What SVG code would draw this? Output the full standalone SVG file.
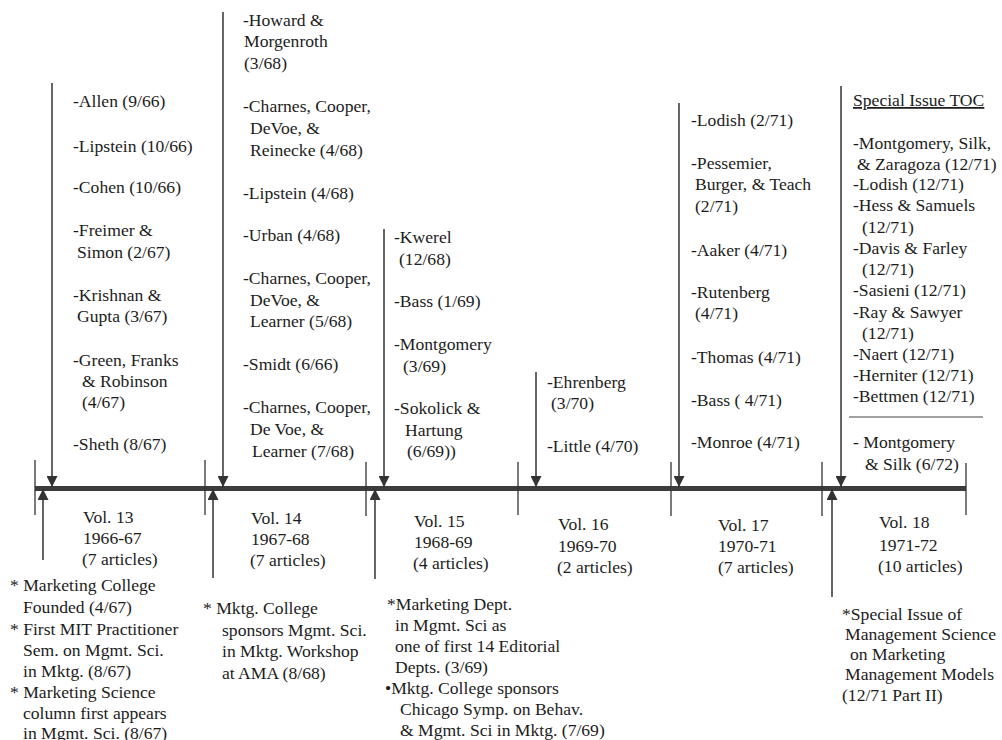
<svg xmlns="http://www.w3.org/2000/svg" width="1002" height="740" viewBox="0 0 1002 740">
<style>
text{font-family:"Liberation Serif","Times New Roman",serif;font-size:17.6px;fill:#1c1c1c}
.ln{stroke:#333;stroke-width:1.5;fill:none}
.tk{stroke:#333;stroke-width:1.3;fill:none}
.ax{stroke:#3c3c3c;stroke-width:5;fill:none}
.ul{text-decoration:underline}
</style>
<defs>
<marker id="ah" viewBox="0 0 10 10" refX="10" refY="5" markerWidth="12" markerHeight="11" markerUnits="userSpaceOnUse" orient="auto">
<path d="M0,0 L10,5 L0,10 z" fill="#333"/>
</marker>
</defs>
<rect width="1002" height="740" fill="#fff"/>

<g id="axis">
<line class="ax" x1="35" y1="488.5" x2="966" y2="488.5"/>
<line class="tk" x1="35" y1="460" x2="35" y2="515"/>
<line class="tk" x1="205" y1="460" x2="205" y2="515"/>
<line class="tk" x1="366" y1="462" x2="366" y2="516"/>
<line class="tk" x1="518" y1="462" x2="518" y2="515"/>
<line class="tk" x1="671" y1="462" x2="671" y2="516"/>
<line class="tk" x1="822" y1="462" x2="822" y2="516"/>
<line class="tk" x1="966" y1="463" x2="966" y2="515"/>
</g>

<g id="connectors">
<line class="ln" x1="52" y1="83" x2="52" y2="487" marker-end="url(#ah)"/>
<line class="ln" x1="223" y1="12" x2="223" y2="487" marker-end="url(#ah)"/>
<line class="ln" x1="384" y1="229" x2="384" y2="487" marker-end="url(#ah)"/>
<line class="ln" x1="536" y1="372" x2="536" y2="487" marker-end="url(#ah)"/>
<line class="ln" x1="679" y1="103" x2="679" y2="487" marker-end="url(#ah)"/>
<line class="ln" x1="841" y1="86" x2="841" y2="487" marker-end="url(#ah)"/>
<line class="ln" x1="43" y1="560" x2="43" y2="489" marker-end="url(#ah)"/>
<line class="ln" x1="213" y1="578" x2="213" y2="489" marker-end="url(#ah)"/>
<line class="ln" x1="375" y1="579" x2="375" y2="489" marker-end="url(#ah)"/>
<line class="ln" x1="832" y1="597" x2="832" y2="489" marker-end="url(#ah)"/>
</g>

<g id="vol13-articles">
<text x="73" y="107">-Allen (9/66)</text>
<text x="73" y="152">-Lipstein (10/66)</text>
<text x="73" y="193">-Cohen (10/66)</text>
<text x="73" y="236">-Freimer &amp;</text>
<text x="77" y="258">Simon (2/67)</text>
<text x="73" y="301">-Krishnan &amp;</text>
<text x="77" y="322">Gupta (3/67)</text>
<text x="73" y="366">-Green, Franks</text>
<text x="82" y="387">&amp; Robinson</text>
<text x="82" y="408">(4/67)</text>
<text x="73" y="450">-Sheth (8/67)</text>
</g>

<g id="vol14-articles">
<text x="243" y="26">-Howard &amp;</text>
<text x="244" y="47">Morgenroth</text>
<text x="244" y="69">(3/68)</text>
<text x="243" y="112">-Charnes, Cooper,</text>
<text x="250" y="134">DeVoe, &amp;</text>
<text x="250" y="156">Reinecke (4/68)</text>
<text x="243" y="199">-Lipstein (4/68)</text>
<text x="243" y="241">-Urban (4/68)</text>
<text x="243" y="284">-Charnes, Cooper,</text>
<text x="250" y="306">DeVoe, &amp;</text>
<text x="250" y="327">Learner (5/68)</text>
<text x="243" y="370">-Smidt (6/66)</text>
<text x="243" y="413">-Charnes, Cooper,</text>
<text x="250" y="435">De Voe, &amp;</text>
<text x="252" y="457">Learner (7/68)</text>
</g>

<g id="vol15-articles">
<text x="394" y="243">-Kwerel</text>
<text x="399" y="265">(12/68)</text>
<text x="394" y="307">-Bass (1/69)</text>
<text x="394" y="350">-Montgomery</text>
<text x="403" y="372">(3/69)</text>
<text x="394" y="414">-Sokolick &amp;</text>
<text x="405" y="436">Hartung</text>
<text x="407" y="457">(6/69))</text>
</g>

<g id="vol16-articles">
<text x="547" y="388">-Ehrenberg</text>
<text x="551" y="409">(3/70)</text>
<text x="547" y="452">-Little (4/70)</text>
</g>

<g id="vol17-articles">
<text x="691" y="126">-Lodish (2/71)</text>
<text x="691" y="169">-Pessemier,</text>
<text x="695" y="190">Burger, &amp; Teach</text>
<text x="695" y="212">(2/71)</text>
<text x="691" y="256">-Aaker  (4/71)</text>
<text x="691" y="298">-Rutenberg</text>
<text x="695" y="319">(4/71)</text>
<text x="691" y="363">-Thomas (4/71)</text>
<text x="691" y="406">-Bass ( 4/71)</text>
<text x="691" y="448">-Monroe (4/71)</text>
</g>

<g id="vol18-articles">
<text x="853" y="106" class="ul">Special Issue TOC</text>
<text x="853" y="149">-Montgomery, Silk,</text>
<text x="857" y="170">&amp; Zaragoza (12/71)</text>
<text x="853" y="190">-Lodish (12/71)</text>
<text x="853" y="211">-Hess &amp; Samuels</text>
<text x="862" y="233">(12/71)</text>
<text x="853" y="254">-Davis &amp; Farley</text>
<text x="862" y="275">(12/71)</text>
<text x="853" y="296">-Sasieni  (12/71)</text>
<text x="853" y="318">-Ray &amp; Sawyer</text>
<text x="862" y="339">(12/71)</text>
<text x="853" y="360">-Naert (12/71)</text>
<text x="853" y="381">-Herniter (12/71)</text>
<text x="853" y="402">-Bettmen (12/71)</text>
<line x1="849" y1="417" x2="983" y2="417" stroke="#444" stroke-width="1.2"/>
<text x="853" y="448">- Montgomery</text>
<text x="865" y="470">&amp; Silk (6/72)</text>
</g>

<g id="vol13">
<text x="83" y="523">Vol. 13</text>
<text x="83" y="544">1966-67</text>
<text x="82" y="565">(7 articles)</text>
</g>
<g id="vol14">
<text x="251" y="524">Vol. 14</text>
<text x="251" y="545">1967-68</text>
<text x="250" y="566">(7 articles)</text>
</g>
<g id="vol15">
<text x="414" y="527">Vol. 15</text>
<text x="414" y="548">1968-69</text>
<text x="413" y="569">(4 articles)</text>
</g>
<g id="vol16">
<text x="558" y="530">Vol. 16</text>
<text x="558" y="552">1969-70</text>
<text x="557" y="573">(2 articles)</text>
</g>
<g id="vol17">
<text x="718" y="531">Vol. 17</text>
<text x="718" y="552">1970-71</text>
<text x="718" y="573">(7 articles)</text>
</g>
<g id="vol18">
<text x="879" y="528">Vol. 18</text>
<text x="879" y="551">1971-72</text>
<text x="878" y="572">(10 articles)</text>
</g>

<g id="events-1966-67">
<text x="10" y="591">* Marketing College</text>
<text x="23" y="613">Founded (4/67)</text>
<text x="10" y="635">* First MIT Practitioner</text>
<text x="23" y="656">Sem. on Mgmt. Sci.</text>
<text x="23" y="677">in  Mktg. (8/67)</text>
<text x="10" y="698">* Marketing Science</text>
<text x="23" y="719">column first appears</text>
<text x="23" y="739">in  Mgmt. Sci. (8/67)</text>
</g>

<g id="events-1967-68">
<text x="203" y="614">* Mktg. College</text>
<text x="222" y="636">sponsors Mgmt. Sci.</text>
<text x="222" y="657">in Mktg. Workshop</text>
<text x="222" y="679">at AMA (8/68)</text>
</g>

<g id="events-1968-69">
<text x="387" y="610">*Marketing Dept.</text>
<text x="395" y="631">in Mgmt. Sci as</text>
<text x="395" y="652">one of first 14  Editorial</text>
<text x="395" y="673">Depts. (3/69)</text>
<text x="385" y="694">•Mktg. College sponsors</text>
<text x="400" y="715">Chicago Symp. on Behav.</text>
<text x="400" y="736">&amp; Mgmt. Sci in Mktg. (7/69)</text>
</g>

<g id="events-1971-72">
<text x="842" y="620">*Special Issue of</text>
<text x="845" y="640">Management Science</text>
<text x="850" y="660">on Marketing</text>
<text x="845" y="680">Management Models</text>
<text x="842" y="701">(12/71 Part II)</text>
</g>
</svg>
